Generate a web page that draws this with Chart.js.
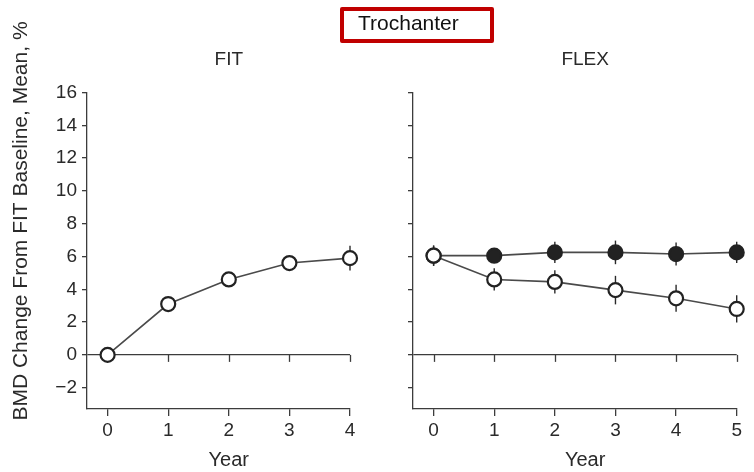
<!DOCTYPE html>
<html>
<head>
<meta charset="utf-8">
<script src="https://cdn.jsdelivr.net/npm/chart.js@4/dist/chart.umd.min.js"></script>
<style>
  html, body { margin: 0; padding: 0; background: #fff; overflow: hidden; }
  #wrap { position: relative; width: 754px; height: 472px; }
  canvas { position: absolute; top: 0; }
  #cFit { left: 0; }
  #cFlex { left: 380px; }
  #site {
    position: absolute; left: 340px; top: 7px;
    width: 132px; height: 28px; padding: 0 0 0 14px;
    border: 4px solid #c00000; border-radius: 2px;
    font: 21px "Liberation Sans", Arial, sans-serif; line-height: 23px;
    color: #111; white-space: nowrap;
  }
</style>
</head>
<body>
<div id="wrap">
  <canvas id="cFit" width="380" height="472"></canvas>
  <canvas id="cFlex" width="374" height="472"></canvas>
  <div id="site">Trochanter</div>
</div>
<script>
// Years of follow-up
const fitYears = [0, 1, 2, 3, 4];
const flexYears = [0, 1, 2, 3, 4, 5];

// FIT: mean BMD change from FIT baseline (%) and its error half-width
const fitMean = [0, 3.1, 4.6, 5.6, 5.9];
const fitErr = [0, 0.3, 0.3, 0.3, 0.75];

// FLEX: continued alendronate (filled) and placebo (open)
const flexAlnMean = [6.05, 6.05, 6.25, 6.25, 6.15, 6.25];
const flexAlnErr = [0.6, 0.45, 0.65, 0.72, 0.7, 0.65];
const flexPboMean = [6.05, 4.6, 4.45, 3.95, 3.45, 2.8];
const flexPboErr = [0.63, 0.68, 0.71, 0.87, 0.82, 0.83];

// Axis ticks
const yTickValues = [-2, 0, 2, 4, 6, 8, 10, 12, 14, 16];
const yMin = -3.3, yMax = 16;
const xPad = 0.34;

const FONT = '"Liberation Sans", Arial, sans-serif';
const INK = '#2a2a2a';
const AXIS = '#3c3c3c';

const toPoints = (xs, ys) => xs.map((x, i) => ({ x: x, y: ys[i] }));

// Vertical error bars, drawn beneath the markers
const errorBars = {
  id: 'errorBars',
  beforeDatasetsDraw(chart) {
    const ctx = chart.ctx;
    const ys = chart.scales.y;
    ctx.save();
    ctx.strokeStyle = '#2a2a2a';
    ctx.lineWidth = 1.4;
    chart.data.datasets.forEach((ds, di) => {
      if (!ds.errors) return;
      const meta = chart.getDatasetMeta(di);
      meta.data.forEach((pt, i) => {
        const e = ds.errors[i];
        if (!e) return;
        const v = ds.data[i].y;
        ctx.beginPath();
        ctx.moveTo(pt.x, ys.getPixelForValue(v + e));
        ctx.lineTo(pt.x, ys.getPixelForValue(v - e));
        ctx.stroke();
      });
    });
    ctx.restore();
  }
};

// Downward ticks on the zero line, panel title, x title and (optionally) y title
const panelText = {
  id: 'panelText',
  beforeDatasetsDraw(chart, args, opts) {
    const ctx = chart.ctx;
    const xs = chart.scales.x, ys = chart.scales.y;
    const y0 = ys.getPixelForValue(0);
    ctx.save();
    ctx.strokeStyle = AXIS;
    ctx.lineWidth = 1.3;
    opts.years.forEach(v => {
      const px = Math.round(xs.getPixelForValue(v)) + 0.5;
      ctx.beginPath();
      ctx.moveTo(px, y0);
      ctx.lineTo(px, y0 + 7);
      ctx.stroke();
    });
    ctx.restore();
  },
  afterDraw(chart, args, opts) {
    const ctx = chart.ctx;
    const xs = chart.scales.x;
    const first = opts.years[0], last = opts.years[opts.years.length - 1];
    const cx = (xs.getPixelForValue(first) + xs.getPixelForValue(last)) / 2;
    ctx.save();
    ctx.fillStyle = INK;
    ctx.textAlign = 'center';
    ctx.textBaseline = 'middle';
    ctx.font = '19px ' + FONT;
    ctx.fillText(opts.title, cx, opts.titleY);
    ctx.font = '20px ' + FONT;
    ctx.fillText(opts.xTitle, cx, opts.xTitleY);
    if (opts.yTitle) {
      ctx.translate(opts.yTitleX, opts.yTitleY);
      ctx.rotate(-Math.PI / 2);
      ctx.font = '21px ' + FONT;
      ctx.fillText(opts.yTitle, 0, 0);
    }
    ctx.restore();
  }
};

function lineSet(xs, ys, errs, filled) {
  return {
    data: toPoints(xs, ys),
    errors: errs,
    clip: false,
    borderColor: '#4a4a4a',
    borderWidth: 1.6,
    pointRadius: 7,
    pointBorderWidth: 2.2,
    pointBorderColor: '#222',
    pointBackgroundColor: filled ? '#222' : '#fff',
    tension: 0
  };
}

function panelOptions(years, showYLabels, yWidth, padRight, textOpts) {
  return {
    responsive: false,
    animation: false,
    events: [],
    layout: { padding: { left: 0, right: padRight, top: 92.5, bottom: 0 } },
    plugins: {
      legend: { display: false },
      tooltip: { enabled: false },
      panelText: textOpts
    },
    scales: {
      x: {
        type: 'linear',
        min: years[0] - xPad,
        max: years[years.length - 1],
        afterBuildTicks: s => { s.ticks = years.map(v => ({ value: v })); },
        afterFit: s => { s.height = 63; },
        border: { display: true, color: AXIS, width: 1.3 },
        grid: { drawOnChartArea: false, drawTicks: true, tickLength: 7, tickColor: AXIS, lineWidth: 1.3 },
        ticks: { color: INK, font: { family: FONT, size: 19 }, padding: 3, maxRotation: 0, autoSkip: false }
      },
      y: {
        type: 'linear',
        min: yMin,
        max: yMax,
        afterBuildTicks: s => { s.ticks = yTickValues.map(v => ({ value: v })); },
        afterFit: s => { s.width = yWidth; },
        border: { display: true, color: AXIS, width: 1.3 },
        grid: {
          drawOnChartArea: true,
          drawTicks: true,
          tickLength: 5,
          lineWidth: 1.3,
          tickColor: AXIS,
          color: c => (c.tick && c.tick.value === 0) ? AXIS : 'rgba(0,0,0,0)'
        },
        ticks: {
          color: INK,
          font: { family: FONT, size: 19 },
          padding: 5,
          autoSkip: false,
          callback: v => showYLabels ? String(v).replace('-', '\u2212') : ''
        }
      }
    }
  };
}

new Chart(document.getElementById('cFit'), {
  type: 'line',
  data: { datasets: [lineSet(fitYears, fitMean, fitErr, false)] },
  options: panelOptions(fitYears, true, 87, 30, {
    years: fitYears, title: 'FIT', titleY: 60, xTitle: 'Year', xTitleY: 460,
    yTitle: 'BMD Change From FIT Baseline, Mean, %', yTitleX: 21, yTitleY: 221
  }),
  plugins: [errorBars, panelText]
});

new Chart(document.getElementById('cFlex'), {
  type: 'line',
  data: {
    datasets: [
      lineSet(flexYears, flexPboMean, flexPboErr, false),
      lineSet(flexYears, flexAlnMean, flexAlnErr, true)
    ]
  },
  options: panelOptions(flexYears, false, 33, 17.3, {
    years: flexYears, title: 'FLEX', titleY: 60, xTitle: 'Year', xTitleY: 460
  }),
  plugins: [errorBars, panelText]
});
</script>
</body>
</html>
